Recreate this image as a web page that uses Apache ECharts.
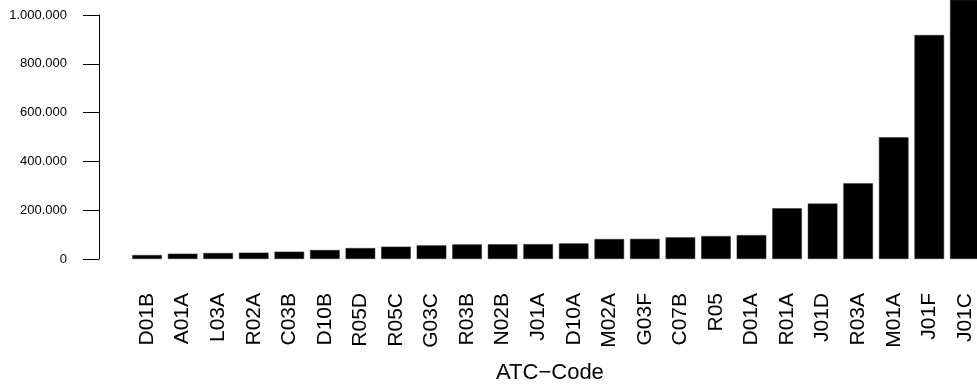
<!DOCTYPE html>
<html>
<head>
<meta charset="utf-8">
<script src="https://cdn.jsdelivr.net/npm/echarts@6/dist/echarts.min.js"></script>
<style>
html,body{margin:0;padding:0;background:#fff;}
#chart{width:977px;height:391px;}
</style>
</head>
<body>
<div id="chart"></div>
<script>
const categories = ['D01B','A01A','L03A','R02A','C03B','D10B','R05D','R05C','G03C','R03B','N02B','J01A','D10A','M02A','G03F','C07B','R05','D01A','R01A','J01D','R03A','M01A','J01F','J01C'];
const values = [16400,21700,24600,26000,30000,36900,45000,50500,56000,60000,60500,61000,64000,82000,82500,89000,94000,98000,208000,227000,310000,499000,918000,1150000];
const yTicks = [0,200000,400000,600000,800000,1000000];
const xTitle = 'ATC\u2212Code';

const FONT = '"Liberation Sans", Arial, Helvetica, sans-serif';
function fmt(v){ return String(v).replace(/\B(?=(\d{3})+(?!\d))/g, '.'); }

const chart = echarts.init(document.getElementById('chart'), null, {renderer:'canvas'});
chart.setOption({
  animation:false,
  backgroundColor:'#fff',
  grid:[
    {left:129.3, width:853.3, top:0, bottom:132, outerBoundsMode:'none', containLabel:false},
    {left:99, width:10, top:15, bottom:132, outerBoundsMode:'none', containLabel:false}
  ],
  xAxis:[
    {type:'category', gridIndex:0, data:categories,
     axisLine:{show:false}, axisTick:{show:false},
     axisLabel:{rotate:90, margin:34, fontSize:21, color:'#000', fontFamily:FONT, interval:0},
     name:xTitle, nameLocation:'middle', nameGap:103,
     nameTextStyle:{fontSize:22, color:'#000', fontFamily:FONT, padding:[0,12,0,0]}},
    {type:'category', gridIndex:1, data:['a'], show:false}
  ],
  yAxis:[
    {type:'value', gridIndex:0, min:0, max:1061475, show:false, splitLine:{show:false}},
    {type:'value', gridIndex:1, min:yTicks[0], max:yTicks[yTicks.length-1], interval:200000,
     axisLine:{show:true, lineStyle:{color:'#000', width:1}},
     axisTick:{show:true, length:16, lineStyle:{color:'#000', width:1}},
     axisLabel:{margin:32, fontSize:13, color:'#000', fontFamily:FONT, formatter:fmt},
     splitLine:{show:false}}
  ],
  series:[
    {type:'bar', xAxisIndex:0, yAxisIndex:0, data:values,
     barCategoryGap:'16.7%',
     itemStyle:{color:'#000', borderColor:'#333', borderWidth:0.5}}
  ]
});
</script>
</body>
</html>
